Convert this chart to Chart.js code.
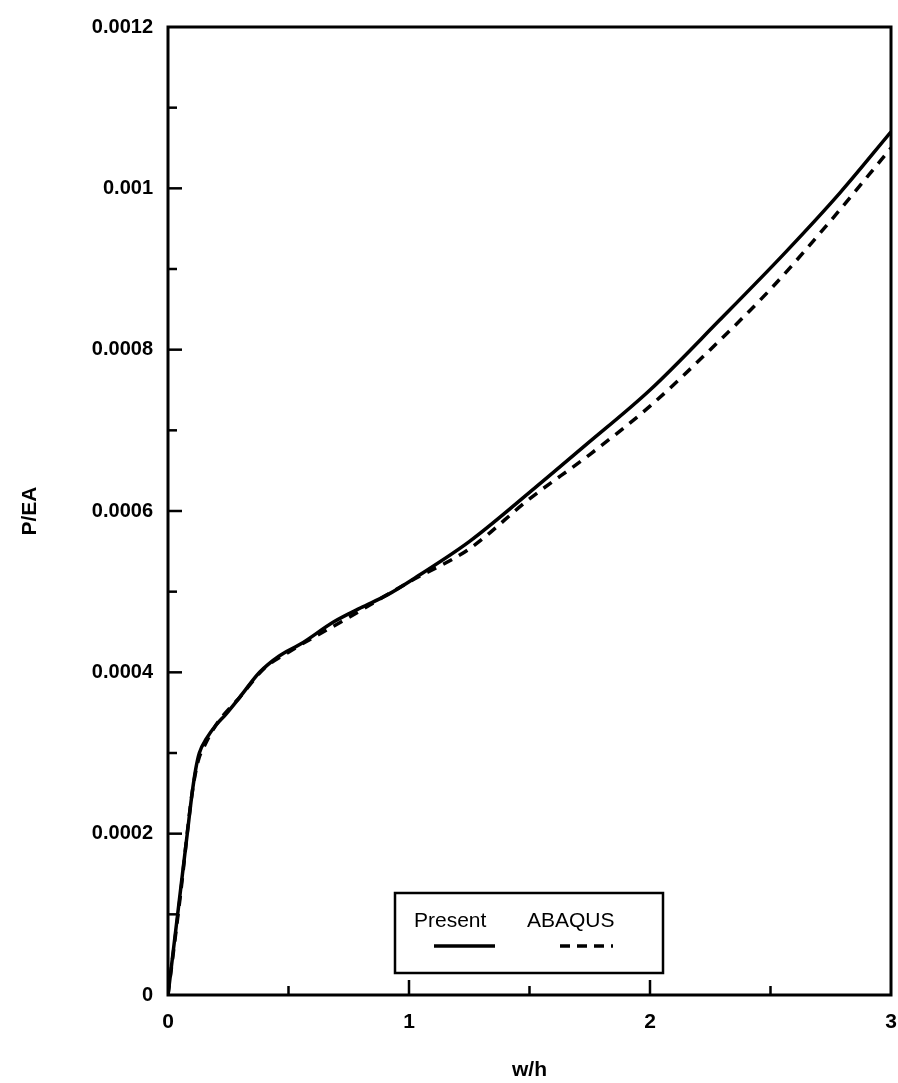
<!DOCTYPE html>
<html>
<head>
<meta charset="utf-8">
<script src="https://cdn.jsdelivr.net/npm/chart.js@4.4.1/dist/chart.umd.min.js"></script>
<style>
  html, body { margin: 0; padding: 0; background: #fff; }
  #wrap { width: 898px; height: 1083px; }
</style>
</head>
<body>
<div id="wrap"><canvas id="myChart" width="898" height="1083"></canvas></div>
<script>
// data
var xPresent = [0, 0.04, 0.08, 0.1, 0.115, 0.13, 0.16, 0.2, 0.24, 0.3, 0.38, 0.46, 0.55, 0.69, 0.8, 0.91, 1.04, 1.25, 1.52, 1.73, 2.0, 2.29, 2.56, 2.79, 3.0];
var yPresent = [0, 0.0001, 0.0002, 0.00025, 0.00028, 0.0003, 0.000318, 0.000335, 0.000348, 0.00037, 0.0004, 0.00042, 0.000435, 0.000463, 0.00048, 0.000496, 0.00052, 0.000562, 0.000628, 0.000681, 0.00075, 0.000837, 0.00092, 0.000995, 0.00107];

var xAbaqus = [0, 0.05, 0.1, 0.125, 0.15, 0.2, 0.3, 0.4, 0.5, 0.75, 1.0, 1.25, 1.5, 1.75, 2.0, 2.25, 2.5, 2.75, 3.0];
var yAbaqus = [0, 0.00012, 0.00025, 0.00029, 0.000308, 0.000335, 0.00037, 0.000405, 0.000425, 0.000468, 0.000512, 0.000553, 0.000615, 0.00067, 0.00073, 0.0008, 0.000875, 0.00096, 0.00105];

var xTickLabels = ["0", "1", "2", "3"];
var yTickLabels = ["0", "0.0002", "0.0004", "0.0006", "0.0008", "0.001", "0.0012"];
var seriesNames = ["Present", "ABAQUS"];

// turn two arrays into {x, y} points
function toPoints(xs, ys) {
  var pts = [];
  for (var i = 0; i < xs.length; i++) {
    pts.push({ x: xs[i], y: ys[i] });
  }
  return pts;
}

var FONT = "'Liberation Sans', Arial, sans-serif";

// frame, inward tick marks and the boxed legend
var framePlugin = {
  id: "frame",
  afterDraw: function (chart) {
    var ctx = chart.ctx;
    var a = chart.chartArea;
    var xs = chart.scales.x;
    var ys = chart.scales.y;
    ctx.save();
    ctx.strokeStyle = "#000";
    ctx.lineWidth = 3;
    ctx.strokeRect(a.left, a.top, a.right - a.left, a.bottom - a.top);

    // y ticks every 0.0001, pointing inward
    ctx.lineWidth = 2.5;
    for (var i = 1; i < 12; i++) {
      var py = ys.getPixelForValue(i * 0.0001);
      var len = (i % 2 === 0) ? 14 : 9;
      ctx.beginPath();
      ctx.moveTo(a.left, py);
      ctx.lineTo(a.left + len, py);
      ctx.stroke();
    }
    // x ticks every 0.5, pointing up
    for (var j = 1; j < 6; j++) {
      var px = xs.getPixelForValue(j * 0.5);
      var l = (j % 2 === 0) ? 15 : 9;
      ctx.beginPath();
      ctx.moveTo(px, a.bottom);
      ctx.lineTo(px, a.bottom - l);
      ctx.stroke();
    }

    // legend box
    var bx = 395, by = 893, bw = 268, bh = 80;
    ctx.fillStyle = "#fff";
    ctx.fillRect(bx, by, bw, bh);
    ctx.lineWidth = 2.5;
    ctx.strokeRect(bx, by, bw, bh);
    ctx.fillStyle = "#000";
    ctx.font = "21px " + FONT;
    ctx.textBaseline = "middle";
    ctx.textAlign = "left";
    ctx.fillText(seriesNames[0], 414, 921);
    ctx.fillText(seriesNames[1], 527, 921);
    ctx.lineWidth = 3.5;
    ctx.beginPath();
    ctx.moveTo(434, 946);
    ctx.lineTo(495, 946);
    ctx.stroke();
    ctx.setLineDash([10, 7]);
    ctx.beginPath();
    ctx.moveTo(560, 946);
    ctx.lineTo(613, 946);
    ctx.stroke();
    ctx.restore();
  }
};

var ctx = document.getElementById("myChart").getContext("2d");

var myChart = new Chart(ctx, {
  type: "line",
  data: {
    datasets: [
      {
        label: seriesNames[0],
        data: toPoints(xPresent, yPresent),
        borderColor: "#000",
        borderWidth: 3.5,
        pointRadius: 0,
        fill: false,
        cubicInterpolationMode: "monotone"
      },
      {
        label: seriesNames[1],
        data: toPoints(xAbaqus, yAbaqus),
        borderColor: "#000",
        borderWidth: 3.5,
        borderDash: [10, 8],
        pointRadius: 0,
        fill: false,
        cubicInterpolationMode: "monotone"
      }
    ]
  },
  options: {
    responsive: false,
    animation: false,
    layout: { padding: { top: 23, right: 7, left: 0, bottom: 0 } },
    plugins: {
      legend: { display: false },
      tooltip: { enabled: false }
    },
    scales: {
      x: {
        type: "linear",
        min: 0,
        max: 3,
        grid: { display: false, drawTicks: false },
        border: { display: false },
        ticks: {
          stepSize: 1,
          padding: 15,
          color: "#000",
          font: { family: FONT, size: 21, weight: "bold" },
          callback: function (v) {
            var k = Math.round(v);
            return Math.abs(v - k) < 1e-9 ? xTickLabels[k] : "";
          }
        },
        title: {
          display: true,
          text: "w/h",
          color: "#000",
          padding: { top: 8, bottom: 0 },
          font: { family: FONT, size: 21, weight: "bold" }
        },
        afterFit: function (scale) {
          scale.height = 88;
          scale.paddingLeft = 0;
          scale.paddingRight = 0;
        }
      },
      y: {
        type: "linear",
        min: 0,
        max: 0.0012,
        grid: { display: false, drawTicks: false },
        border: { display: false },
        ticks: {
          stepSize: 0.0002,
          padding: 15,
          color: "#000",
          font: { family: FONT, size: 20, weight: "bold" },
          callback: function (v) {
            var k = Math.round(v / 0.0002);
            return yTickLabels[k];
          }
        },
        title: {
          display: true,
          text: "P/EA",
          color: "#000",
          padding: { top: 18, bottom: 0 },
          font: { family: FONT, size: 21, weight: "bold" }
        },
        afterFit: function (scale) { scale.width = 168; }
      }
    }
  },
  plugins: [framePlugin]
});
</script>
</body>
</html>
